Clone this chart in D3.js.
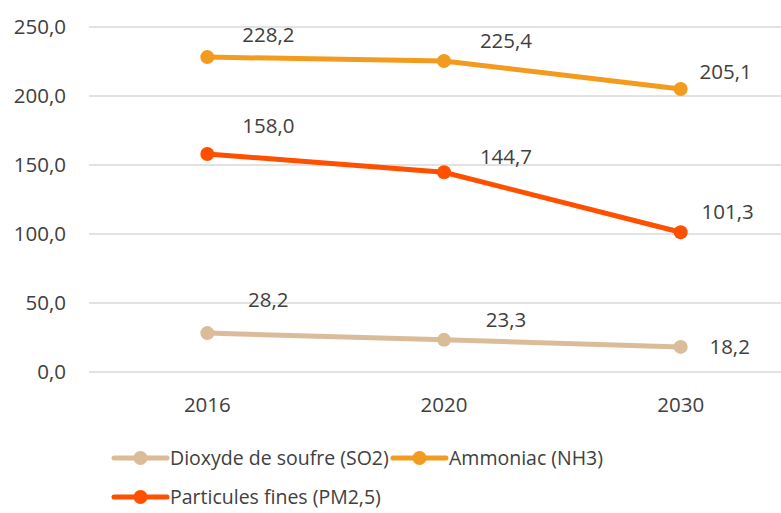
<!DOCTYPE html>
<html>
<head>
<meta charset="utf-8">
<script src="https://cdn.jsdelivr.net/npm/d3@7"></script>
<style>
  body { margin: 0; background: #fff; }
  text { font-family: "Open Sans", sans-serif; fill: #404040; }
</style>
</head>
<body>
<div id="chart"></div>
<script>
// data
var years = ['2016', '2020', '2030'];
var so2 = [28.2, 23.3, 18.2];
var nh3 = [228.2, 225.4, 205.1];
var pm25 = [158.0, 144.7, 101.3];
var yTicks = [0, 50, 100, 150, 200, 250];

var seriesNames = ['Dioxyde de soufre (SO2)', 'Ammoniac (NH3)', 'Particules fines (PM2,5)'];
var seriesColors = ['#dbbc99', '#f39b1f', '#ff5000'];
var seriesValues = [so2, nh3, pm25];

// label offsets (excel places them a bit oddly)
var labelOffsets = [
  [[61, -33], [62, -20], [49, 0]],
  [[61, -22], [62, -20], [45, -17]],
  [[61, -28], [62, -15], [47, -20]]
];

var w = 781, h = 513;
var fmt = function(d){ return d3.format('.1f')(d).replace('.', ','); };

var svg = d3.select('#chart').append('svg')
  .attr('width', w)
  .attr('height', h);

var x = d3.scaleBand().domain(years).range([89, 799]);
var y = d3.scaleLinear().domain([0, 250]).range([372, 27]);

// gridlines
svg.selectAll('line.grid')
  .data(yTicks)
  .enter()
  .append('line')
  .attr('x1', 89).attr('x2', w)
  .attr('y1', function(d){ return y(d); })
  .attr('y2', function(d){ return y(d); })
  .attr('stroke', '#d9d9d9')
  .attr('stroke-width', 1.5);

// y labels
svg.selectAll('text.ytick')
  .data(yTicks)
  .enter()
  .append('text')
  .attr('x', 66)
  .attr('y', function(d){ return y(d); })
  .attr('dy', '0.35em')
  .attr('text-anchor', 'end')
  .attr('font-size', '20.5px')
  .text(fmt);

// x labels
svg.selectAll('text.xtick')
  .data(years)
  .enter()
  .append('text')
  .attr('x', function(d){ return x(d) + x.bandwidth() / 2; })
  .attr('y', 412)
  .attr('text-anchor', 'middle')
  .attr('font-size', '20.5px')
  .text(function(d){ return d; });

var cx = function(d, i){ return x(years[i]) + x.bandwidth() / 2; };

var line = d3.line()
  .x(cx)
  .y(function(d){ return y(d); });

seriesValues.forEach(function(vals, s){
  var g = svg.append('g');
  g.append('path')
    .datum(vals)
    .attr('d', line)
    .attr('fill', 'none')
    .attr('stroke', seriesColors[s])
    .attr('stroke-width', 5)
    .attr('stroke-linecap', 'round');

  g.selectAll('circle')
    .data(vals)
    .enter()
    .append('circle')
    .attr('cx', cx)
    .attr('cy', function(d){ return y(d); })
    .attr('r', 7)
    .attr('fill', seriesColors[s]);

  g.selectAll('text')
    .data(vals)
    .enter()
    .append('text')
    .attr('x', function(d, i){ return cx(d, i) + labelOffsets[s][i][0]; })
    .attr('y', function(d){ return y(d); })
    .attr('dy', function(d, i){ return (labelOffsets[s][i][1] + 7) + 'px'; })
    .attr('text-anchor', 'middle')
    .attr('font-size', '20.5px')
    .text(fmt);
});

// legend
var legendPos = [[114, 458], [393, 458], [114, 497]];
var legend = svg.selectAll('g.legend')
  .data(seriesNames)
  .enter()
  .append('g')
  .attr('transform', function(d, i){ return 'translate(' + legendPos[i][0] + ',' + legendPos[i][1] + ')'; });

legend.append('line')
  .attr('x1', 0).attr('x2', 53)
  .attr('stroke', function(d, i){ return seriesColors[i]; })
  .attr('stroke-width', 5)
  .attr('stroke-linecap', 'round');
legend.append('circle')
  .attr('cx', 26.5)
  .attr('r', 7)
  .attr('fill', function(d, i){ return seriesColors[i]; });
legend.append('text')
  .attr('x', 56)
  .attr('dy', '0.35em')
  .attr('font-size', '19.5px')
  .text(function(d){ return d; });
</script>
</body>
</html>
